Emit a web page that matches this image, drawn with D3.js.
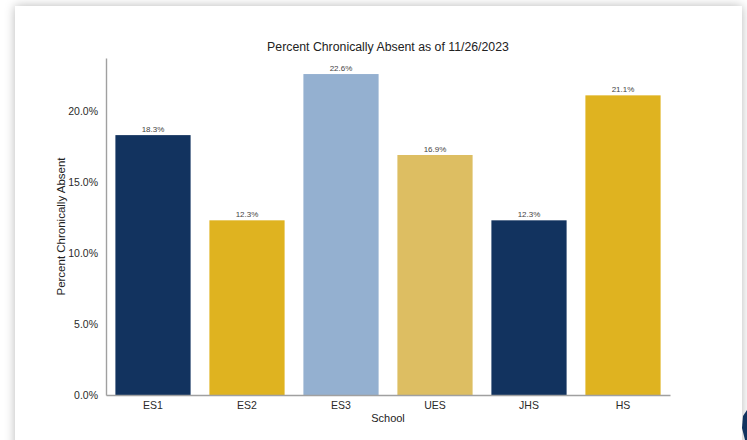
<!DOCTYPE html>
<html>
<head>
<meta charset="utf-8">
<script src="https://cdn.jsdelivr.net/npm/d3@7"></script>
<style>
  html, body { margin: 0; padding: 0; background: #fff; }
  body { width: 747px; height: 440px; overflow: hidden; position: relative; }
  .card {
    position: absolute; left: 15px; top: 6px; width: 727px; height: 460px;
    background: #fff; box-shadow: 0 0 10px rgba(0,0,0,0.28);
  }
  svg { position: absolute; left: 0; top: 0; }
  text { font-family: "Liberation Sans", Arial, sans-serif; }
</style>
</head>
<body>
<div class="card"></div>
<div id="chart"></div>
<script>
"use strict";
var schools = ["ES1", "ES2", "ES3", "UES", "JHS", "HS"];
var pctAbsent = [18.3, 12.3, 22.6, 16.9, 12.3, 21.1];
var barColors = ["#12335f", "#dfb320", "#94b0d0", "#ddbe62", "#12335f", "#dfb320"];
var yTicks = [0, 5, 10, 15, 20];

var width = 747, height = 440;
var margin = {left: 106, right: 77, top: 58, bottom: 45};

var svg = d3.select("#chart").append("svg")
  .attr("width", width)
  .attr("height", height);

var x = d3.scaleBand()
  .domain(schools)
  .range([margin.left, width - margin.right])
  .paddingInner(0.2)
  .paddingOuter(0.1);

var y = d3.scaleLinear()
  .domain([0, d3.max(pctAbsent) * 1.05])
  .range([height - margin.bottom, margin.top]);

var data = schools.map(function (s, i) { return {school: s, value: pctAbsent[i], color: barColors[i]}; });

// bars
svg.selectAll("rect.bar")
  .data(data)
  .enter().append("rect")
  .attr("class", "bar")
  .attr("x", function (d) { return x(d.school); })
  .attr("width", x.bandwidth())
  .attr("y", function (d) { return y(d.value); })
  .attr("height", function (d) { return y(0) - y(d.value); })
  .attr("fill", function (d) { return d.color; });

// value labels
svg.selectAll("text.val")
  .data(data)
  .enter().append("text")
  .attr("class", "val")
  .attr("x", function (d) { return x(d.school) + x.bandwidth() / 2; })
  .attr("y", function (d) { return y(d.value) - 3; })
  .attr("text-anchor", "middle")
  .style("font-size", "8px")
  .style("fill", "#444")
  .text(function (d) { return d.value.toFixed(1) + "%"; });

// axes
var xAxis = svg.append("g")
  .attr("transform", "translate(0," + y(0) + ")")
  .call(d3.axisBottom(x).tickSize(0).tickPadding(7));
var yAxis = svg.append("g")
  .attr("transform", "translate(" + margin.left + ",0)")
  .call(d3.axisLeft(y).tickValues(yTicks).tickSize(0).tickPadding(8)
    .tickFormat(function (d) { return d.toFixed(1) + "%"; }));

[xAxis, yAxis].forEach(function (g) {
  g.select(".domain").attr("stroke", "#a0a0a0").attr("stroke-width", 1.4);
  g.selectAll("text")
    .style("font-family", "'Liberation Sans', Arial, sans-serif")
    .style("font-size", "10.5px")
    .style("fill", "#2a2a2a");
});

// title + axis labels
var cx = (margin.left + width - margin.right) / 2;
svg.append("text")
  .attr("x", cx).attr("y", 51)
  .attr("text-anchor", "middle")
  .style("font-size", "12.3px")
  .style("fill", "#222")
  .text("Percent Chronically Absent as of 11/26/2023");

svg.append("text")
  .attr("x", cx).attr("y", 422)
  .attr("text-anchor", "middle")
  .style("font-size", "11px")
  .style("fill", "#222")
  .text("School");

svg.append("text")
  .attr("transform", "translate(65," + (margin.top + height - margin.bottom) / 2 + ") rotate(-90)")
  .attr("text-anchor", "middle")
  .style("font-size", "11.5px")
  .style("fill", "#222")
  .text("Percent Chronically Absent");

// bit of a logo peeking in at the bottom right corner
svg.append("path")
  .attr("d", "M747,410 L743,416 L742,428 L745,440 L747,440 Z")
  .attr("fill", "#12335f");
</script>
</body>
</html>
